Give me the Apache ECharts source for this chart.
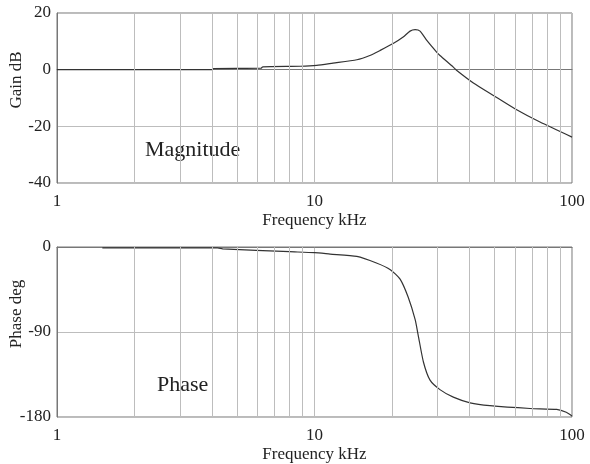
<!DOCTYPE html>
<html>
<head>
<meta charset="utf-8">
<script src="https://cdn.jsdelivr.net/npm/echarts@6/dist/echarts.min.js"></script>
<style>
	html, body { margin: 0; padding: 0; background: #fff; }
	#bode { width: 590px; height: 464px; }
</style>
</head>
<body>
<div id="bode"></div>
<script>
	// frequency in kHz, gain in dB
	var gainFreq = [1, 4, 4.05, 6.2, 6.3, 8.8, 10.2, 11.8, 14.6, 16.4, 18, 20.2, 22.1, 23.5, 24.6, 25.7, 27.3, 29.8, 30.7, 34.6, 35.6, 41.4, 49.5, 60, 75.1, 100];
	var gainDb = [0, 0, 0.4, 0.5, 1, 1.2, 1.5, 2.3, 3.5, 5, 6.8, 9.2, 11.5, 13.6, 14.1, 13.6, 10.3, 6.2, 5, 0.9, -0.2, -4.7, -9.1, -13.8, -18.5, -23.8];

	// frequency in kHz, phase in degrees
	var phaseFreq = [1.5, 4.2, 4.4, 8, 10, 11.5, 14.6, 17.4, 19.7, 21.5, 23.1, 24.6, 25.3, 26.5, 28.1, 30.7, 34.6, 40.2, 48, 68.7, 87.2, 95, 100];
	var phaseDeg = [-1, -1, -2, -5, -6, -7.5, -10, -17, -24, -34, -53, -77, -94, -122, -141, -151, -159, -165, -168, -171, -172, -175, -179];

	var xTicks = [1, 10, 100];
	var gainTicks = [-40, -20, 0, 20];
	var phaseTicks = [-180, -90, 0];
	var minorFreq = [2, 3, 4, 5, 6, 7, 8, 9, 20, 30, 40, 50, 60, 70, 80, 90];

	function pairs(xs, ys) {
		var out = [];
		for (let i = 0; i < xs.length; i++) {
			out.push([xs[i], ys[i]]);
		}
		return out;
	}

	var font = "'Liberation Serif', 'Times New Roman', serif";
	var textColor = "#222";
	var gridColor = "#bdbdbd";

	function xAxisOf(idx) {
		return {
			type: 'log',
			logBase: 10,
			gridIndex: idx,
			min: xTicks[0],
			max: xTicks[xTicks.length - 1],
			name: 'Frequency kHz',
			nameLocation: 'middle',
			nameGap: 29,
			nameMoveOverlap: false,
			nameTextStyle: { fontFamily: font, fontSize: 17, color: textColor },
			axisLine: { show: true, lineStyle: { color: '#777' } },
			axisTick: { show: false },
			axisLabel: { fontFamily: font, fontSize: 17, color: textColor, margin: 10 },
			splitLine: { show: true, lineStyle: { color: gridColor, width: 1 } }
		};
	}

	function yAxisOf(idx, name, ticks) {
		return {
			type: 'value',
			gridIndex: idx,
			min: ticks[0],
			max: ticks[ticks.length - 1],
			interval: ticks[1] - ticks[0],
			name: name,
			nameLocation: 'middle',
			nameGap: 32,
			nameMoveOverlap: false,
			nameTextStyle: { fontFamily: font, fontSize: 17, color: textColor, padding: [0, 0, 0, 36] },
			axisLine: { show: true, lineStyle: { color: '#777' } },
			axisTick: { show: false },
			axisLabel: { fontFamily: font, fontSize: 17, color: textColor, margin: 6 },
			splitLine: { show: true, lineStyle: { color: gridColor, width: 1 } }
		};
	}

	function minorLines() {
		var data = [];
		for (let i = 0; i < minorFreq.length; i++) {
			data.push({ xAxis: minorFreq[i] });
		}
		return {
			silent: true,
			symbol: 'none',
			label: { show: false },
			lineStyle: { color: gridColor, type: 'solid', width: 1 },
			data: data
		};
	}

	var option = {
		animation: false,
		backgroundColor: '#fff',
		grid: [
			{ left: 57, right: 18, top: 13, height: 170, show: true, borderColor: '#777', borderWidth: 1, outerBoundsMode: 'none', containLabel: false },
			{ left: 57, right: 18, top: 247, height: 170, show: true, borderColor: '#777', borderWidth: 1, outerBoundsMode: 'none', containLabel: false }
		],
		xAxis: [xAxisOf(0), xAxisOf(1)],
		yAxis: [yAxisOf(0, 'Gain dB', gainTicks), yAxisOf(1, 'Phase deg', phaseTicks)],
		graphic: [
			{ type: 'text', left: 145, top: 139, style: { text: 'Magnitude', fontFamily: font, fontSize: 22, fill: textColor } },
			{ type: 'text', left: 157, top: 374, style: { text: 'Phase', fontFamily: font, fontSize: 22, fill: textColor } }
		],
		series: [
			{
				name: 'Magnitude',
				type: 'line',
				xAxisIndex: 0,
				yAxisIndex: 0,
				showSymbol: false,
				smooth: 0.2,
				lineStyle: { color: '#333', width: 1.2 },
				data: pairs(gainFreq, gainDb),
				markLine: minorLines()
			},
			{
				name: 'Phase',
				type: 'line',
				xAxisIndex: 1,
				yAxisIndex: 1,
				showSymbol: false,
				smooth: 0.2,
				lineStyle: { color: '#333', width: 1.2 },
				data: pairs(phaseFreq, phaseDeg),
				markLine: minorLines()
			}
		]
	};

	var myChart = echarts.init(document.getElementById('bode'));
	myChart.setOption(option);
</script>
</body>
</html>
